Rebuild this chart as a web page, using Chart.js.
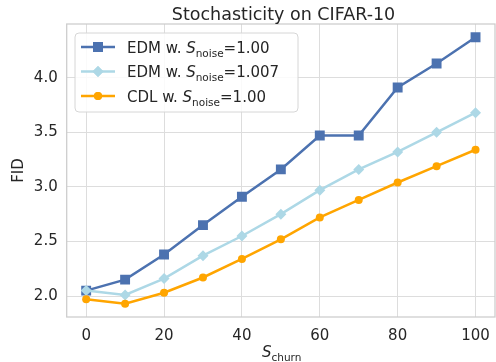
<!DOCTYPE html>
<html>
<head>
<meta charset="utf-8">
<script src="https://cdn.jsdelivr.net/npm/chart.js@4/dist/chart.umd.min.js"></script>
<style>
  html, body { margin: 0; padding: 0; background: #fff; overflow: hidden; }
  #wrap { width: 502px; height: 362px; }
</style>
</head>
<body>
<div id="wrap"><canvas id="line-chart" width="502" height="362"></canvas></div>
<script>
var s_churn = [0, 10, 20, 30, 40, 50, 60, 70, 80, 90, 100];
var fid_edm_100 = [2.05, 2.15, 2.38, 2.65, 2.91, 3.16, 3.47, 3.47, 3.91, 4.13, 4.37];
var fid_edm_1007 = [2.05, 2.01, 2.16, 2.37, 2.55, 2.75, 2.97, 3.16, 3.32, 3.50, 3.68];
var fid_cdl_100 = [1.97, 1.93, 2.03, 2.17, 2.34, 2.52, 2.72, 2.88, 3.04, 3.19, 3.34];

var x_ticks = [0, 20, 40, 60, 80, 100];
var y_ticks = [2.0, 2.5, 3.0, 3.5, 4.0];

var legend_items = [
	{ name: "EDM w. ", value: "=1.00", color: "#4c72b0", style: "rect", radius: 7 },
	{ name: "EDM w. ", value: "=1.007", color: "#add8e6", style: "rectRot", radius: 5.5 },
	{ name: "CDL w. ", value: "=1.00", color: "#ffa500", style: "circle", radius: 4 }
];

var FONT = "DejaVu Sans";
var TEXT = "#262626";

function points(ys) {
	return s_churn.map(function (x, i) { return { x: x, y: ys[i] }; });
}

// draws "S" italic with a subscript, returns the new x
function draw_sub(ctx, x, y, sub, size) {
	ctx.font = "italic " + size + "px '" + FONT + "'";
	ctx.fillText("S", x, y);
	x += ctx.measureText("S").width;
	ctx.font = (size * 0.7) + "px '" + FONT + "'";
	ctx.fillText(sub, x, y + size * 0.27);
	return x + ctx.measureText(sub).width;
}

var decorations = {
	id: "decorations",
	beforeDatasetsDraw: function (chart) {
		var ctx = chart.ctx, a = chart.chartArea;
		ctx.save();
		ctx.strokeStyle = "#cccccc";
		ctx.lineWidth = 1.25;
		ctx.strokeRect(a.left, a.top, a.right - a.left, a.bottom - a.top);
		ctx.restore();
	},
	afterDraw: function (chart) {
		var ctx = chart.ctx, a = chart.chartArea;
		ctx.save();
		ctx.fillStyle = TEXT;
		ctx.textBaseline = "alphabetic";

		// title
		ctx.font = "17.5px '" + FONT + "'";
		ctx.textAlign = "center";
		ctx.fillText("Stochasticity on CIFAR-10", 283.5, 20);

		// y label
		ctx.font = "15px '" + FONT + "'";
		ctx.save();
		ctx.translate(23, (a.top + a.bottom) / 2);
		ctx.rotate(-Math.PI / 2);
		ctx.fillText("FID", 0, 0);
		ctx.restore();

		// x label
		ctx.textAlign = "left";
		draw_sub(ctx, 262, 357, "churn", 15);

		// legend box
		var bx = 75, by = 33, bw = 223, bh = 79;
		ctx.beginPath();
		ctx.roundRect(bx, by, bw, bh, 4);
		ctx.fillStyle = "rgba(255,255,255,0.85)";
		ctx.fill();
		ctx.strokeStyle = "#d6d6d6";
		ctx.lineWidth = 1;
		ctx.stroke();

		legend_items.forEach(function (it, i) {
			var cy = 47 + i * 24.5;
			ctx.strokeStyle = it.color;
			ctx.lineWidth = 2.5;
			ctx.beginPath();
			ctx.moveTo(81, cy);
			ctx.lineTo(115, cy);
			ctx.stroke();
			ctx.fillStyle = it.color;
			Chart.helpers.drawPoint(ctx, { pointStyle: it.style, radius: it.radius, borderWidth: 0, rotation: 0 }, 98, cy);
			ctx.fill();

			ctx.fillStyle = TEXT;
			ctx.font = "15px '" + FONT + "'";
			var tx = 127, ty = cy + 5.5;
			ctx.fillText(it.name, tx, ty);
			tx += ctx.measureText(it.name).width;
			tx = draw_sub(ctx, tx, ty, "noise", 15);
			ctx.font = "15px '" + FONT + "'";
			ctx.fillText(it.value, tx, ty);
		});
		ctx.restore();
	}
};

function series(label, data, color, style, radius, order) {
	return {
		label: label,
		data: points(data),
		borderColor: color,
		backgroundColor: color,
		borderWidth: 2.5,
		pointStyle: style,
		pointRadius: radius,
		pointHoverRadius: radius,
		pointBorderWidth: 0,
		pointBackgroundColor: color,
		order: order,
		tension: 0
	};
}

new Chart(document.getElementById("line-chart"), {
	type: "line",
	data: {
		datasets: [
			series("EDM w. Snoise=1.00", fid_edm_100, "#4c72b0", "rect", 7, 3),
			series("EDM w. Snoise=1.007", fid_edm_1007, "#add8e6", "rectRot", 5.5, 2),
			series("CDL w. Snoise=1.00", fid_cdl_100, "#ffa500", "circle", 4, 1)
		]
	},
	plugins: [decorations],
	options: {
		responsive: false,
		animation: false,
		devicePixelRatio: 1,
		layout: { padding: { top: 24, right: 1, left: 0, bottom: 0 } },
		plugins: {
			legend: { display: false },
			title: { display: false },
			tooltip: { enabled: false }
		},
		scales: {
			x: {
				type: "linear",
				min: -5,
				max: 105,
				afterBuildTicks: function (scale) {
					scale.ticks = x_ticks.map(function (v) { return { value: v }; });
				},
				afterFit: function (scale) { scale.height = 45; },
				grid: { color: "#dddddd", lineWidth: 1, drawTicks: false },
				border: { display: false },
				ticks: {
					padding: 10,
					color: TEXT,
					font: { family: FONT, size: 15 }
				}
			},
			y: {
				min: 1.808,
				max: 4.492,
				afterBuildTicks: function (scale) {
					scale.ticks = y_ticks.map(function (v) { return { value: v }; });
				},
				afterFit: function (scale) { scale.width = 66.7; },
				grid: { color: "#dddddd", lineWidth: 1, drawTicks: false },
				border: { display: false },
				ticks: {
					padding: 9,
					color: TEXT,
					font: { family: FONT, size: 15 },
					callback: function (v) { return Number(v).toFixed(1); }
				}
			}
		}
	}
});
</script>
</body>
</html>
